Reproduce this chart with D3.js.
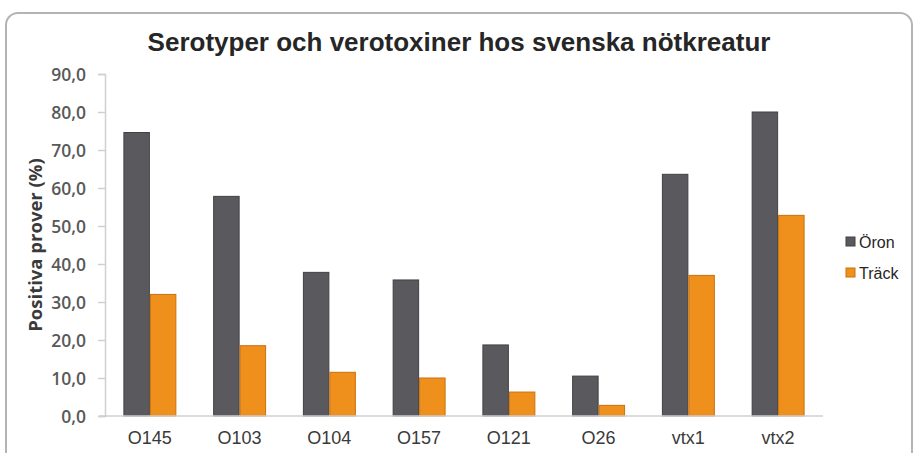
<!DOCTYPE html>
<html lang="sv">
<head>
  <meta charset="UTF-8">
  <title>Serotyper och verotoxiner</title>
  <style>
    body { margin: 0; background: #fff; }
    svg { display: block; }
    .tick-label { font-family: "Open Sans"; font-weight: 600; font-size: 17.5px; fill: #595959; }
    .cat-label { font-family: "Liberation Sans", Arial; font-size: 18px; fill: #3a3a3a; }
  </style>
</head>
<body>
  <svg width="914" height="453"></svg>
  <script src="https://d3js.org/d3.v7.min.js"></script>
  <script>
    const categories = ["O145", "O103", "O104", "O157", "O121", "O26", "vtx1", "vtx2"];
    const series = ["Öron", "Träck"];
    const oron = [74.6, 57.8, 37.8, 35.8, 18.7, 10.5, 63.6, 80.0];
    const track = [32.0, 18.5, 11.5, 10.0, 6.3, 2.8, 37.0, 52.8];
    const yTicks = [0, 10, 20, 30, 40, 50, 60, 70, 80, 90];
    const colors = ["#5a5a5e", "#f0901c"];
    const strokes = ["#414144", "#c9700d"];

    const rows = categories.map((c, i) => ({ cat: c, values: [oron[i], track[i]] }));

    const svg = d3.select("svg");

    // outer rounded frame
    svg.append("rect")
      .attr("x", 6).attr("y", 13)
      .attr("width", 906).attr("height", 460)
      .attr("rx", 12)
      .attr("fill", "#fff")
      .attr("stroke", "#b4b4b4")
      .attr("stroke-width", 2);

    const plotL = 105, plotR = 823, plotT = 74, plotB = 416;

    const x0 = d3.scaleBand().domain(categories).range([plotL, plotR])
      .paddingInner(0.41).paddingOuter(0.205);
    const x1 = d3.scaleBand().domain([0, 1]).range([0, x0.bandwidth()]);
    const y = d3.scaleLinear().domain([0, 90]).range([plotB, plotT]);

    svg.append("text")
      .attr("x", 459).attr("y", 51)
      .attr("text-anchor", "middle")
      .style("font-family", "Liberation Sans, Arial")
      .style("font-weight", "bold")
      .style("font-size", "26px")
      .style("fill", "#262626")
      .text("Serotyper och verotoxiner hos svenska nötkreatur");

    // y axis
    const yAxis = svg.append("g")
      .attr("transform", `translate(${plotL},0)`)
      .call(d3.axisLeft(y).tickValues(yTicks).tickSize(7).tickPadding(12)
        .tickFormat(d => d3.format(".1f")(d).replace(".", ",")));
    yAxis.select(".domain").attr("stroke", "#d0d0d0").attr("stroke-width", 1.5);
    yAxis.selectAll(".tick line").attr("stroke", "#d0d0d0").attr("stroke-width", 1.5);
    yAxis.selectAll(".tick text").attr("class", "tick-label").attr("dy", "0.35em");

    svg.append("text")
      .attr("transform", `translate(42,${(plotT + plotB) / 2}) rotate(-90)`)
      .attr("text-anchor", "middle")
      .style("font-family", "Open Sans")
      .style("font-weight", "bold")
      .style("font-size", "18.5px")
      .style("fill", "#3a3a3a")
      .text("Positiva prover (%)");

    // bars
    const groups = svg.append("g").selectAll("g")
      .data(rows).join("g")
      .attr("transform", d => `translate(${x0(d.cat)},0)`);

    groups.selectAll("rect")
      .data(d => d.values.map((v, k) => ({ k, v })))
      .join("rect")
      .attr("x", d => x1(d.k) + 0.5)
      .attr("y", d => y(d.v))
      .attr("width", x1.bandwidth() - 1)
      .attr("height", d => y(0) - y(d.v))
      .attr("fill", d => colors[d.k])
      .attr("stroke", d => strokes[d.k])
      .attr("stroke-width", 1);

    // x axis baseline
    svg.append("line")
      .attr("x1", plotL - 6).attr("x2", plotR)
      .attr("y1", y(0)).attr("y2", y(0))
      .attr("stroke", "#d0d0d0").attr("stroke-width", 1.5);

    svg.append("g").selectAll("text")
      .data(categories).join("text")
      .attr("class", "cat-label")
      .attr("x", d => x0(d) + x0.bandwidth() / 2)
      .attr("y", 444)
      .attr("text-anchor", "middle")
      .text(d => d);

    // legend
    const legend = svg.append("g").selectAll("g")
      .data(series).join("g")
      .attr("transform", (d, i) => `translate(846,${242 + i * 31})`);
    legend.append("rect")
      .attr("x", 0).attr("y", -5).attr("width", 9).attr("height", 9)
      .attr("fill", (d, i) => colors[i])
      .attr("stroke", (d, i) => strokes[i]);
    legend.append("text")
      .attr("x", 13).attr("y", 6)
      .style("font-family", "Liberation Sans, Arial")
      .style("font-size", "16px")
      .style("fill", "#262626")
      .text(d => d);
  </script>
</body>
</html>
